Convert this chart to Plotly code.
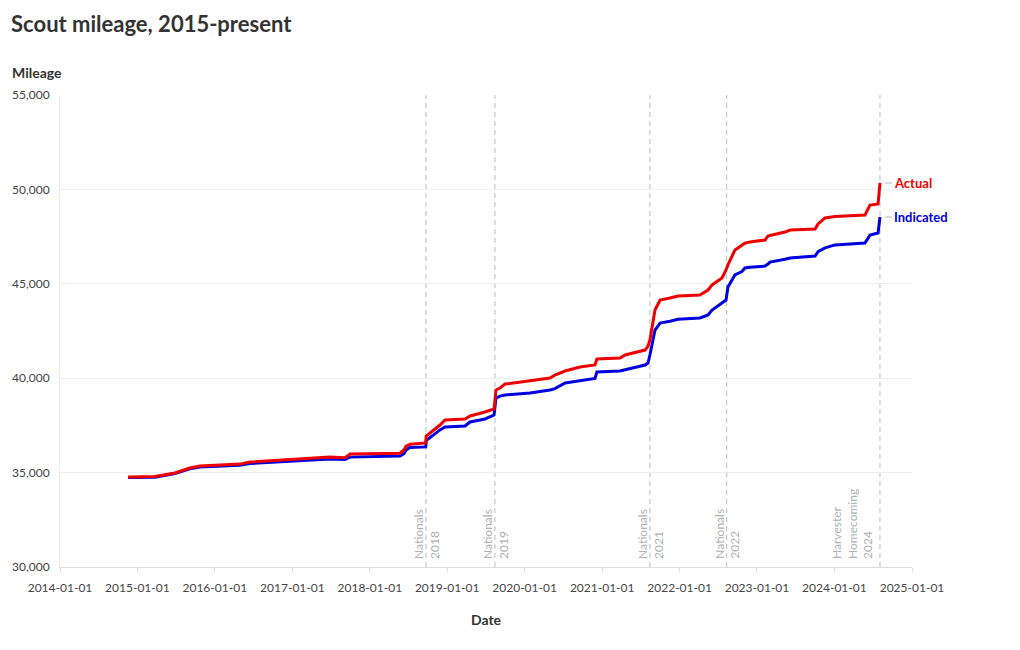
import plotly.graph_objects as go

dates = ["2014-11-18","2015-03-25","2015-06-27","2015-09-05","2015-10-23","2016-01-01","2016-04-28","2016-06-14",
         "2017-02-06","2017-06-27","2017-09-06","2017-09-30","2018-05-23","2018-06-11","2018-06-21","2018-07-10",
         "2018-09-22","2018-09-24","2018-11-28","2018-12-22","2019-03-26","2019-04-19","2019-06-28","2019-08-10",
         "2019-08-19","2019-09-07","2019-10-01","2020-01-27","2020-04-30","2020-05-23","2020-07-10","2020-09-18",
         "2020-11-04","2020-11-28","2020-12-07","2021-03-26","2021-04-19","2021-07-22","2021-08-05","2021-08-14",
         "2021-09-07","2021-10-01","2021-11-17","2021-12-10","2021-12-24","2022-04-07","2022-05-15","2022-06-03",
         "2022-07-20","2022-08-08","2022-08-17","2022-09-19","2022-10-22","2022-11-05","2022-11-29","2023-02-08",
         "2023-02-22","2023-03-03","2023-05-13","2023-06-06","2023-10-02","2023-10-16","2023-11-18","2024-01-04",
         "2024-05-24","2024-06-08","2024-06-17","2024-07-25","2024-08-03"]
actual = [34770,34790,34980,35240,35350,35400,35450,35560,
          35720,35830,35790,35980,36030,36200,36400,36500,
          36570,36940,37520,37790,37840,38000,38210,38370,
          39380,39480,39690,39850,40010,40170,40380,40590,
          40650,40700,41020,41070,41230,41490,41700,42020,
          43610,44140,44250,44300,44350,44410,44670,44940,
          45310,45730,46000,46790,47060,47150,47220,47320,
          47530,47560,47740,47850,47900,48170,48490,48560,
          48640,48960,49170,49230,50340]
indicated = [34740,34760,34950,35200,35300,35340,35390,35480,
             35620,35720,35700,35820,35880,36000,36200,36330,
             36360,36700,37260,37420,37470,37680,37840,38050,
             38950,39050,39110,39220,39380,39450,39750,39880,
             39960,39990,40330,40380,40450,40700,40800,41230,
             42550,42920,43020,43080,43120,43190,43350,43610,
             44000,44140,44830,45470,45650,45840,45880,45940,
             46050,46150,46300,46370,46470,46700,46900,47060,
             47160,47450,47580,47690,48540]

event_dates = ["2018-09-23", "2019-08-14", "2021-08-14", "2022-08-11", "2024-08-03"]
event_labels = ["Nationals<br>2018", "Nationals<br>2019", "Nationals<br>2021", "Nationals<br>2022",
                "Harvester<br>Homecoming<br>2024"]

FONT = "Lato"
fig = go.Figure()
fig.add_trace(go.Scatter(x=dates, y=indicated, mode="lines", name="Indicated",
                         line=dict(color="#0000e0", width=3), showlegend=False))
fig.add_trace(go.Scatter(x=dates, y=actual, mode="lines", name="Actual",
                         line=dict(color="#ee0000", width=3), showlegend=False))

for d, lab in zip(event_dates, event_labels):
    fig.add_shape(type="line", x0=d, x1=d, y0=0, y1=1, xref="x", yref="paper",
                  line=dict(color="#bbbbbb", width=1, dash="5px,4px"), layer="below")
    three = lab.count("<br>") == 2
    fig.add_annotation(x=d, y=0, xref="x", yref="paper", text=lab, textangle=-90,
                       showarrow=False, xanchor="right" if three else "center", yanchor="bottom",
                       xshift=-3 if three else 0, yshift=6, align="left",
                       font=dict(family=FONT, size=12, color="#b0b0b0"))

fig.add_annotation(x=dates[-1], y=actual[-1], text="<b>Actual</b>", showarrow=True, arrowhead=0,
                   arrowcolor="#bbbbbb", arrowwidth=1, ax=12, ay=0, xanchor="left", standoff=5,
                   font=dict(family=FONT, size=13, color="#ee0000"))
fig.add_annotation(x=dates[-1], y=indicated[-1], text="<b>Indicated</b>", showarrow=True, arrowhead=0,
                   arrowcolor="#bbbbbb", arrowwidth=1, ax=12, ay=0, xanchor="left", standoff=5,
                   font=dict(family=FONT, size=13, color="#0000e0"))

fig.add_annotation(x=0, y=1, xref="paper", yref="paper", text="<b>Mileage</b>", showarrow=False,
                   xanchor="left", yanchor="bottom", xshift=-50, yshift=12,
                   font=dict(family=FONT, size=14, color="#333333"))

fig.update_layout(
    width=1020, height=650,
    margin=dict(l=52, r=116, t=87, b=91),
    paper_bgcolor="white", plot_bgcolor="white",
    font=dict(family=FONT, size=12, color="#444444"),
    title=dict(text="<b>Scout mileage, 2015-present</b>", x=0.003, xanchor="left", y=0.975, yanchor="middle",
               font=dict(family=FONT, size=22, color="#333333")),
    xaxis=dict(range=["2014-01-01", "2025-01-01"], tickformat="%Y-%m-%d", dtick="M12", tick0="2014-01-01",
               showgrid=False, showline=True, linecolor="#dddddd", ticks="outside", ticklen=4,
               tickcolor="#dddddd", ticklabelstandoff=6, automargin=False,
               title=dict(text="<b>Date</b>", font=dict(family=FONT, size=14, color="#333333"), standoff=20),
               tickfont=dict(size=12, color="#444444")),
    yaxis=dict(range=[30000, 55000], dtick=5000, tickformat=",", showgrid=True, gridcolor="#eeeeee",
               showline=True, linecolor="#eeeeee", zeroline=False, ticks="", ticklabelstandoff=7,
               automargin=False, tickfont=dict(size=12, color="#444444")),
)

fig.write_html("out.html")
